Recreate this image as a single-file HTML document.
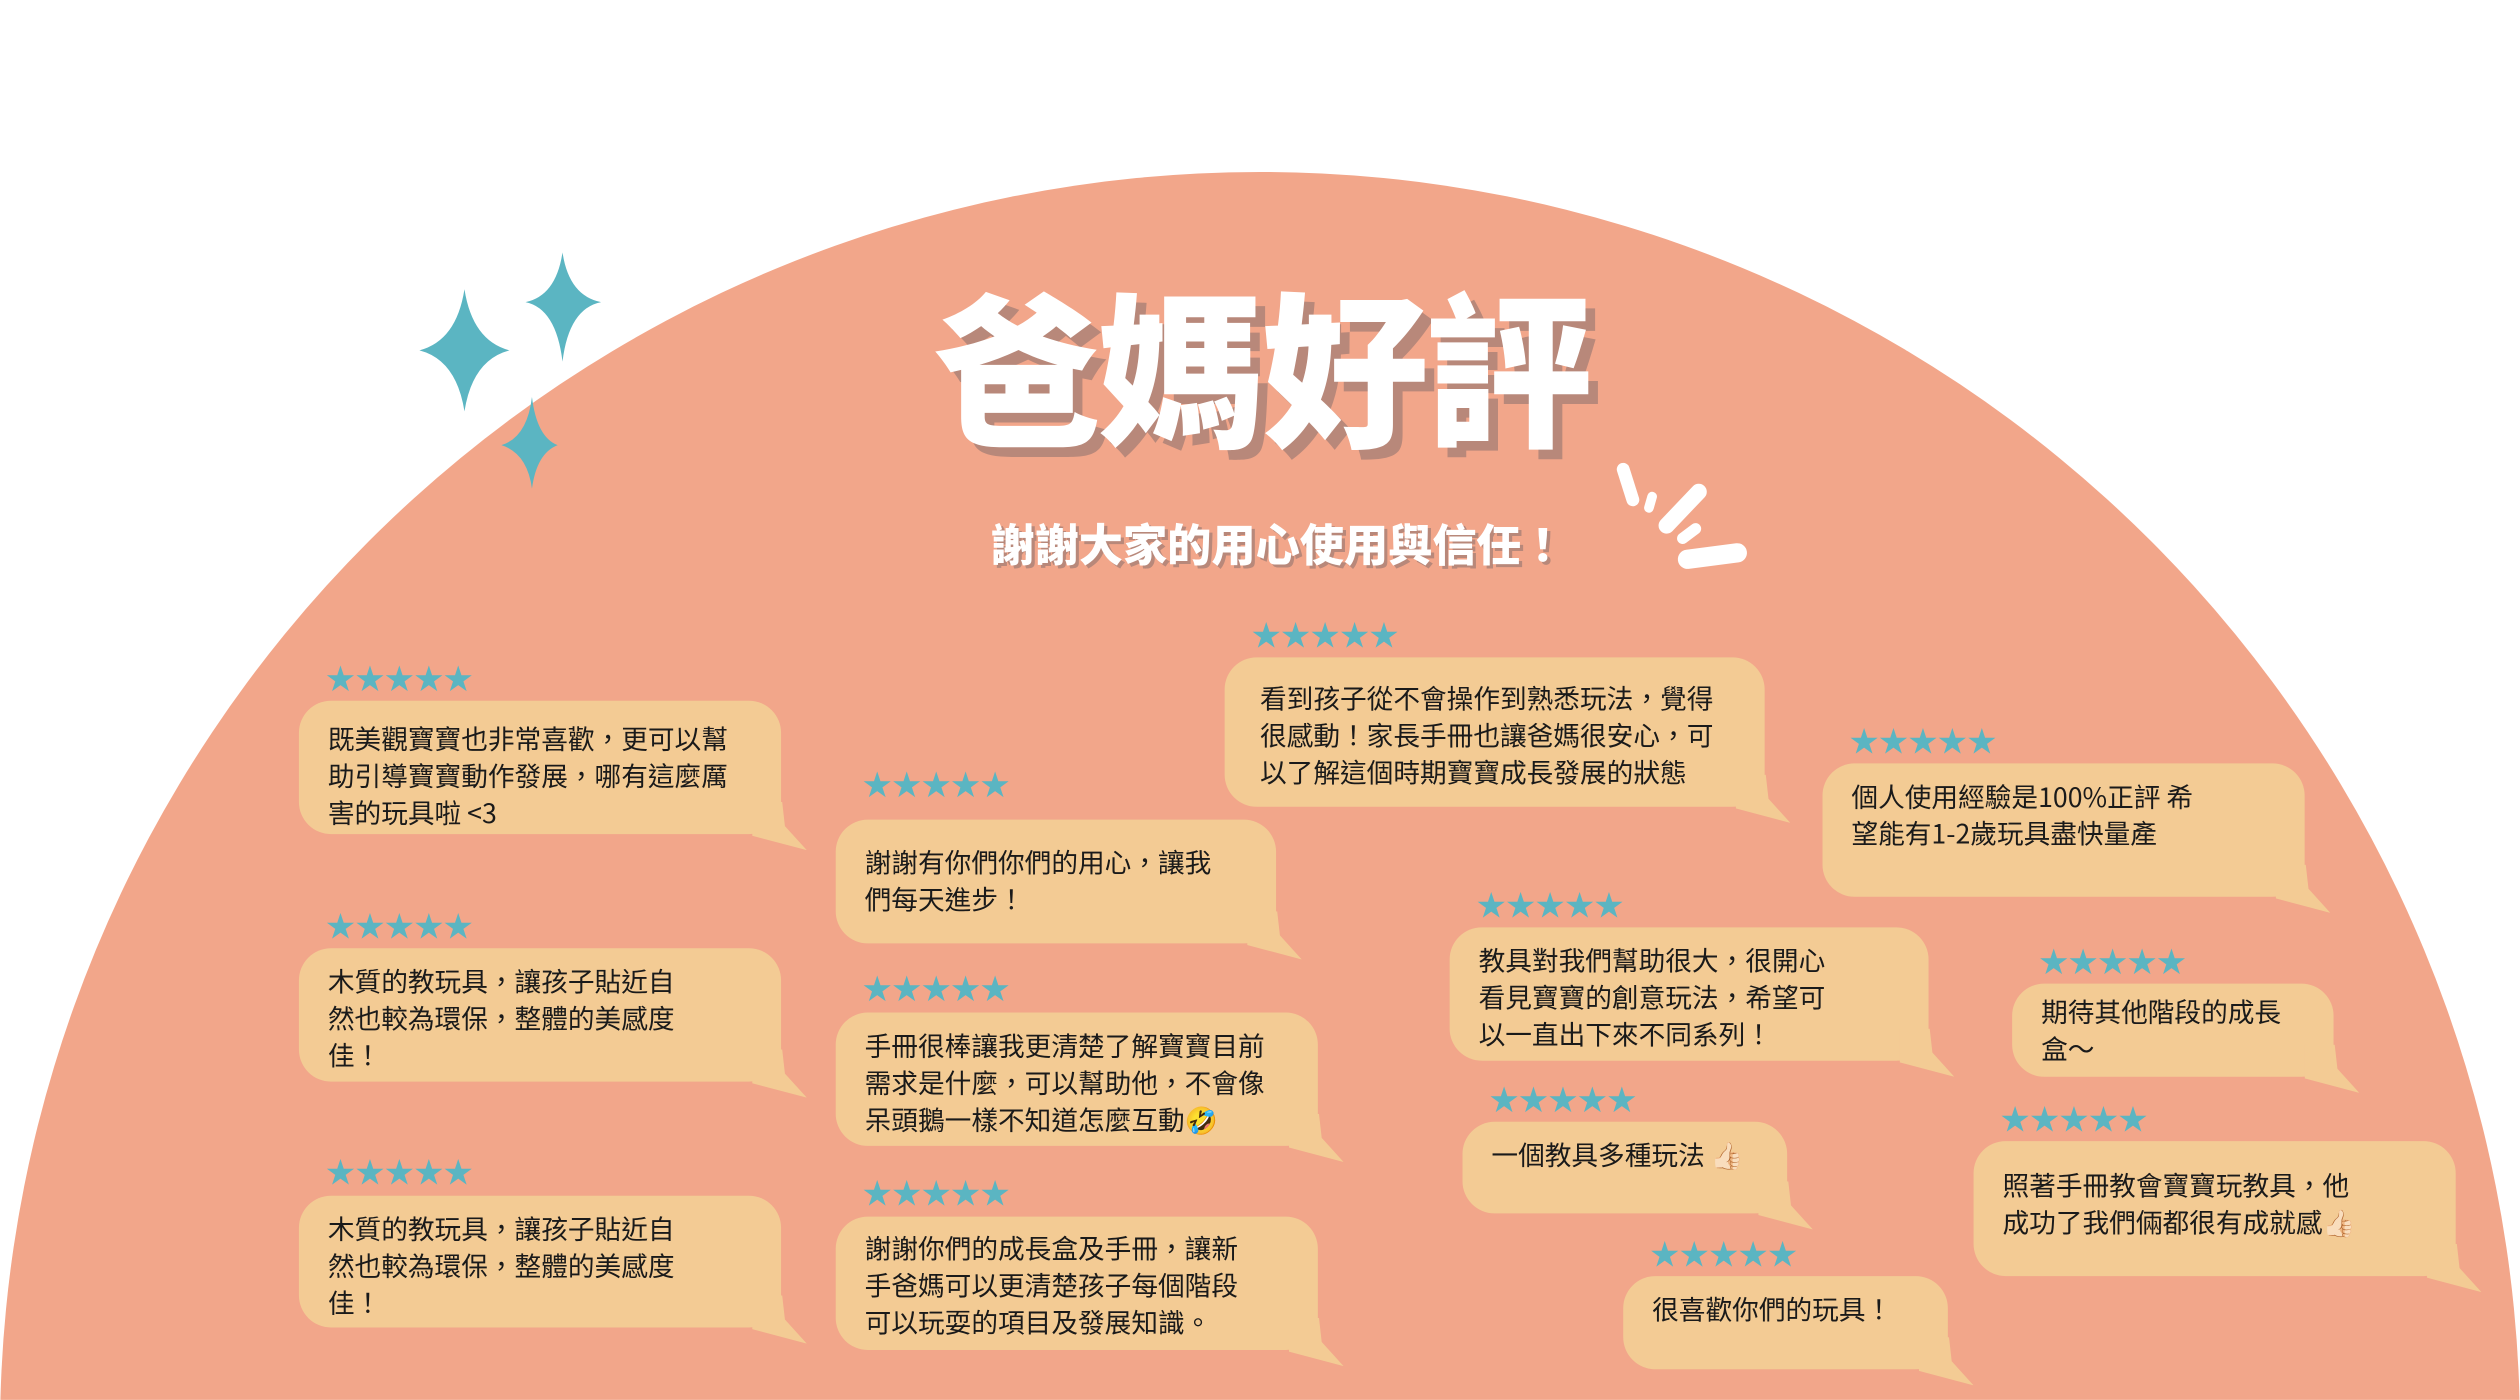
<!DOCTYPE html>
<html><head><meta charset="utf-8"><style>
html,body{margin:0;padding:0;background:#fff;}
body{width:2520px;height:1400px;overflow:hidden;position:relative;}
#w{position:absolute;left:0;top:0;width:1568px;height:871px;overflow:hidden;transform:scale(1.60714);transform-origin:0 0;}
.stars{position:absolute;color:#5BB5C2;font-size:22px;letter-spacing:-1.4px;line-height:1;font-family:"DejaVu Sans",sans-serif;}
.b{position:absolute;background:#F3CB94;border-radius:20px;box-sizing:border-box;padding:14px 18px;font-family:"Noto Sans CJK TC",sans-serif;font-size:16.6px;line-height:23px;color:#1a1a1a;white-space:nowrap;}
.b::after{content:"";position:absolute;right:-16px;bottom:-10px;width:34px;height:30px;background:#F3CB94;clip-path:polygon(0 0,55% 0,60% 50%,100% 100%,0 70%);}
</style></head><body><div id="w">
<svg width="1568" height="871" style="position:absolute;left:0;top:0">
<circle cx="784" cy="891" r="784" fill="#F2A68A"/>
<g fill="#5BB5C2">
<path d="M289,180 Q294,212 317,218 Q294,224 289,256 Q284,224 261,218 Q284,212 289,180Z"/>
<path d="M350,157 Q354,184 374,188 Q354,192 350,225 Q346,192 327,188 Q346,184 350,157Z"/>
<path d="M331,247 Q334,272 347,277 Q334,282 331,304 Q328,282 312,277 Q328,272 331,247Z"/>
</g>
<g stroke="#fff" stroke-linecap="round" fill="none">
<line x1="1010" y1="292" x2="1016" y2="311" stroke-width="8"/>
<line x1="1028" y1="309" x2="1026" y2="316" stroke-width="6"/>
<line x1="1057" y1="306" x2="1037" y2="327" stroke-width="10"/>
<line x1="1055" y1="329" x2="1047" y2="335" stroke-width="7"/>
<line x1="1050" y1="348" x2="1081" y2="344" stroke-width="12"/>
</g>
</svg>
<div style="position:absolute;left:535px;top:165px;width:500px;text-align:center;font-family:'Noto Sans CJK TC',sans-serif;font-weight:900;font-size:104px;line-height:120px;color:#fff;text-shadow:6px 6px 0 #B8887A;letter-spacing:-2px;">爸媽好評</div>
<div style="position:absolute;left:580px;top:317px;width:430px;text-align:center;font-family:'Noto Sans CJK TC',sans-serif;font-weight:900;font-size:27.5px;line-height:40px;color:#fff;text-shadow:2px 2px 0 #B8887A;">謝謝大家的用心使用與信任！</div>

<div class="stars" style="left:202px;top:413px">★★★★★</div>
<div class="b" style="left:186px;top:436px;width:300px;height:83px;padding-top:12px">既美觀寶寶也非常喜歡，更可以幫<br>助引導寶寶動作發展，哪有這麼厲<br>害的玩具啦 &lt;3</div>
<div class="stars" style="left:202px;top:567px">★★★★★</div>
<div class="b" style="left:186px;top:590px;width:300px;height:83px;padding-top:9px">木質的教玩具，讓孩子貼近自<br>然也較為環保，整體的美感度<br>佳！</div>
<div class="stars" style="left:202px;top:720px">★★★★★</div>
<div class="b" style="left:186px;top:744px;width:300px;height:82px;padding-top:9px">木質的教玩具，讓孩子貼近自<br>然也較為環保，整體的美感度<br>佳！</div>

<div class="stars" style="left:536px;top:479px">★★★★★</div>
<div class="b" style="left:520px;top:510px;width:274px;height:77px;padding-top:15px">謝謝有你們你們的用心，讓我<br>們每天進步！</div>
<div class="stars" style="left:536px;top:606px">★★★★★</div>
<div class="b" style="left:520px;top:630px;width:300px;height:83px;padding-top:9px">手冊很棒讓我更清楚了解寶寶目前<br>需求是什麼，可以幫助他，不會像<br>呆頭鵝一樣不知道怎麼互動🤣</div>
<div class="stars" style="left:536px;top:733px">★★★★★</div>
<div class="b" style="left:520px;top:757px;width:300px;height:83px;padding-top:8px">謝謝你們的成長盒及手冊，讓新<br>手爸媽可以更清楚孩子每個階段<br>可以玩耍的項目及發展知識。</div>

<div class="stars" style="left:778px;top:386px">★★★★★</div>
<div class="b" style="left:762px;top:409px;width:336px;height:93px;padding-top:14px;padding-left:22px">看到孩子從不會操作到熟悉玩法，覺得<br>很感動！家長手冊也讓爸媽很安心，可<br>以了解這個時期寶寶成長發展的狀態</div>

<div class="stars" style="left:1150px;top:452px">★★★★★</div>
<div class="b" style="left:1134px;top:475px;width:300px;height:83px;padding-top:9px">個人使用經驗是100%正評 希<br>望能有1-2歲玩具盡快量產</div>
<div class="stars" style="left:918px;top:554px">★★★★★</div>
<div class="b" style="left:902px;top:577px;width:298px;height:83px;padding-top:9px">教具對我們幫助很大，很開心<br>看見寶寶的創意玩法，希望可<br>以一直出下來不同系列！</div>
<div class="stars" style="left:926px;top:675px">★★★★★</div>
<div class="b" style="left:910px;top:698px;width:202px;height:57px;padding-top:9px">一個教具多種玩法 👍🏻</div>
<div class="stars" style="left:1026px;top:771px">★★★★★</div>
<div class="b" style="left:1010px;top:794px;width:202px;height:58px;padding-top:9px">很喜歡你們的玩具！</div>
<div class="stars" style="left:1268px;top:589px">★★★★★</div>
<div class="b" style="left:1252px;top:612px;width:200px;height:58px;padding-top:6px">期待其他階段的成長<br>盒～</div>
<div class="stars" style="left:1244px;top:687px">★★★★★</div>
<div class="b" style="left:1228px;top:710px;width:300px;height:84px;padding-top:16px">照著手冊教會寶寶玩教具，他<br>成功了我們倆都很有成就感👍🏻</div>
</div></body></html>
